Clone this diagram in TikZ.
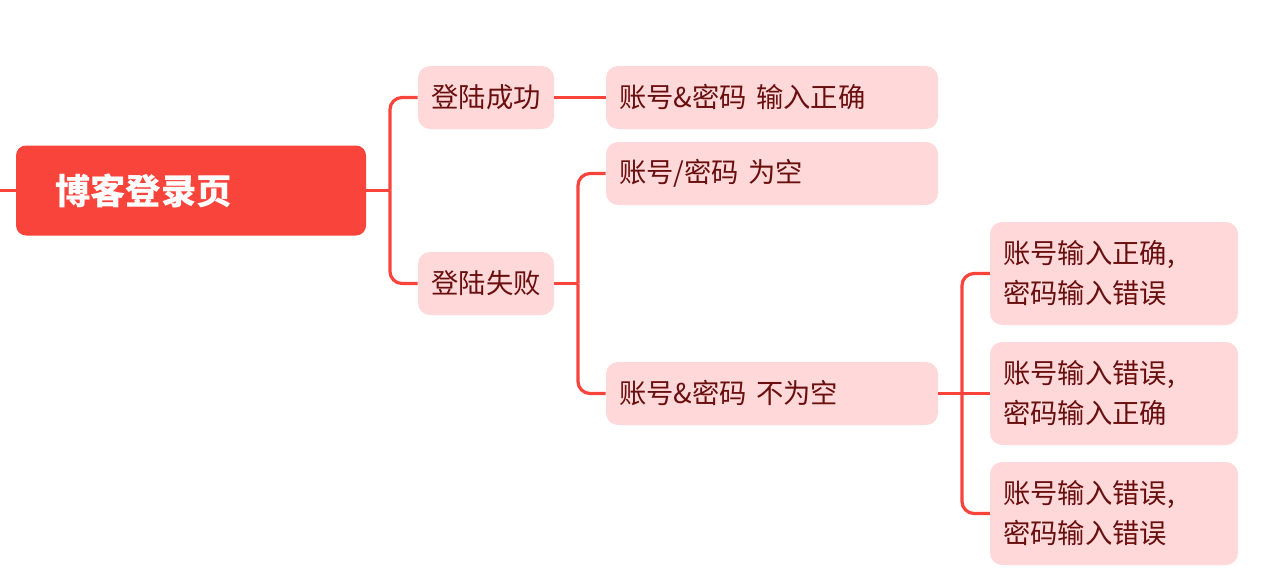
\documentclass[tikz,border=0pt]{standalone}
\usepackage{fontspec}
\newfontfamily\cjk{Noto Sans CJK SC}
\definecolor{mainred}{HTML}{F9443C}
\definecolor{lightpink}{HTML}{FFD9D9}
\definecolor{darktext}{HTML}{6A0F0F}
\tikzset{
  rootbox/.style={fill=mainred, rounded corners=7.5pt, minimum width=262.5pt, minimum height=67.5pt,
    text width=204pt, inner xsep=29.25pt, align=left, text=white, font=\cjk\bfseries\fontsize{26.5}{30}\selectfont},
  subbox/.style={fill=lightpink, rounded corners=9pt, minimum height=47.25pt, text=darktext,
    font=\cjk\fontsize{20.5}{30}\selectfont},
  lvone/.style={subbox, minimum width=102pt, inner xsep=0pt},
  lvtwo/.style={subbox, text width=229.5pt, inner xsep=9.75pt, align=left},
  lvthree/.style={subbox, minimum height=77.25pt, text width=166.5pt, inner xsep=9.75pt, align=left},
  conn/.style={draw=mainred, line width=2.4pt, rounded corners=9pt},
}
\begin{document}
\begin{tikzpicture}[x=0.75pt, y=-0.75pt]
\useasboundingbox (0,0) rectangle (1262,578);
\node[rootbox] (root) at (191,190.5) {博客登录页};
\node[lvone] (s1) at (486,97.5) {登陆成功};
\node[lvone] (s2) at (486,283.5) {登陆失败};
\node[lvtwo] (b1) at (772,97.5) {账号\&密码 输入正确};
\node[lvtwo] (b2) at (772,173.5) {账号/密码 为空};
\node[lvtwo] (b3) at (772,393.5) {账号\&密码 不为空};
\node[lvthree] (c1) at (1114,273.5) {账号输入正确,\\密码输入错误};
\node[lvthree] (c2) at (1114,393.5) {账号输入错误,\\密码输入正确};
\node[lvthree] (c3) at (1114,513.5) {账号输入错误,\\密码输入错误};
\coordinate (left) at (0,190.5);
\coordinate (j1) at (390,190.5);
\coordinate (j2) at (578,283.5);
\coordinate (j3) at (962,393.5);
\draw[conn] (left) -- (root.west);
\draw[conn] (root.east) -- (j1);
\draw[conn] (j1) |- (s1.west);
\draw[conn] (j1) |- (s2.west);
\draw[conn] (s1.east) -- (b1.west);
\draw[conn] (s2.east) -- (j2);
\draw[conn] (j2) |- (b2.west);
\draw[conn] (j2) |- (b3.west);
\draw[conn] (b3.east) -- (j3);
\draw[conn] (j3) |- (c1.west);
\draw[conn] (j3) -- (c2.west);
\draw[conn] (j3) |- (c3.west);
\end{tikzpicture}
\end{document}
